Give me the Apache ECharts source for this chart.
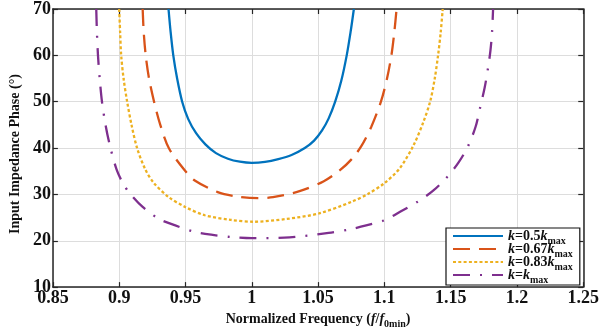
<!DOCTYPE html>
<html>
<head>
<meta charset="utf-8">
<script src="https://cdn.jsdelivr.net/npm/echarts@6/dist/echarts.min.js"></script>
<style>html,body{margin:0;padding:0;background:#fff}#c{width:602px;height:334px}</style>
</head>
<body>
<div id="c"></div>
<script>
// ---- data ----
var xTicks = [0.85, 0.9, 0.95, 1, 1.05, 1.1, 1.15, 1.2, 1.25];
var yTicks = [10, 20, 30, 40, 50, 60, 70];
var seriesNames = ['k=0.5kmax', 'k=0.67kmax', 'k=0.83kmax', 'k=kmax'];

var k050Freq  = [0.9372, 0.9388, 0.9408, 0.9437, 0.9475, 0.9520, 0.9580, 0.9650, 0.9730, 0.9820, 0.9910, 1.0000, 1.0100, 1.0200, 1.0300, 1.0400, 1.0470, 1.0530, 1.0580, 1.0629, 1.0675, 1.0716, 1.0745, 1.0770];
var k050Phase = [70,     65,     60,     55,     50,     46.3,   43.2,   40.8,   38.9,   37.7,   37.05,  36.8,   37.0,   37.6,   38.5,   40.0,   41.6,   43.8,   46.4,   50,     54.5,   60,     65,     70];

var k067Freq  = [0.9177, 0.9185, 0.9200, 0.9225, 0.9263, 0.9310, 0.9374, 0.9497, 0.9570, 0.9743, 0.9900, 1.0050, 1.0160, 1.0360, 1.0540, 1.0660, 1.0750, 1.0826, 1.0900, 1.0974, 1.1020, 1.1053, 1.1075, 1.1092];
var k067Phase = [70,     65,     60,     55,     50,     45,     40,     35.1,   33.0,   30.5,   29.5,   29.2,   29.4,   30.7,   32.8,   35.1,   37.5,   40.4,   44.5,   50,     55,     60,     65,     70];

var k083Freq  = [0.9000, 0.9007, 0.9015, 0.9033, 0.9060, 0.9093, 0.9135, 0.9195, 0.9260, 0.9374, 0.9497, 0.9645, 0.9842, 1.0014, 1.0260, 1.0507, 1.0753, 1.0876, 1.0995, 1.1115, 1.1220, 1.1294, 1.1345, 1.1380, 1.1405, 1.1425, 1.1440];
var k083Phase = [70,     65,     60,     55,     50,     45,     40,     35.5,   32.5,   29.4,   27.3,   25.5,   24.5,   24.1,   24.7,   25.9,   28.4,   30.1,   32.3,   35.6,   40.6,   45.6,   50,     55,     60,     65,     70];

var k100Freq  = [0.8827, 0.8832, 0.8840, 0.8853, 0.8870, 0.8897, 0.8930, 0.8980, 0.9030, 0.9078, 0.9177, 0.9300, 0.9423, 0.9558, 0.9694, 0.9842, 1.0000, 1.0285, 1.0580, 1.0728, 1.0863, 1.0999, 1.1122, 1.1250, 1.1368, 1.1475, 1.1560, 1.1631, 1.1688, 1.1722, 1.1757, 1.1783, 1.1800, 1.1812, 1.1820];
var k100Phase = [70,     65,     60,     55,     50,     45,     40.5,   35.4,   32.3,   30.3,   27.3,   24.7,   23.3,   22.0,   21.3,   20.8,   20.55,  20.75,  21.7,   22.4,   23.3,   24.4,   26.3,   28.4,   30.8,   33.8,   36.9,   40.4,   44.6,   48.7,   53.1,   57.5,   61,     65,     70];

// ---- chart ----
function pairs(xs, ys) { return xs.map(function (x, i) { return [x, ys[i]]; }); }

var FONT = '"Liberation Serif", "Times New Roman", serif';
var AXIS_COLOR = '#262626';
var TXT = '#111';
var colors = ['#0072BD', '#D95319', '#EDB120', '#7E2F8E'];
var dashes = ['solid', [17, 9], [3, 2.3], [17, 10, 2, 10]];
var datasets = [pairs(k050Freq, k050Phase), pairs(k067Freq, k067Phase), pairs(k083Freq, k083Phase), pairs(k100Freq, k100Phase)];

var legendRich = {
  it:  { fontFamily: FONT, fontWeight: 'bold', fontStyle: 'italic', fontSize: 14, color: TXT, verticalAlign: 'bottom' },
  n:   { fontFamily: FONT, fontWeight: 'bold', fontSize: 14, color: TXT, verticalAlign: 'bottom' },
  sub: { fontFamily: FONT, fontWeight: 'bold', fontSize: 10, color: TXT, verticalAlign: 'bottom', padding: [0, 0, -3, 0] }
};
var legendText = {
  'k=0.5kmax':  '{it|k}{n|=0.5}{it|k}{sub|max}',
  'k=0.67kmax': '{it|k}{n|=0.67}{it|k}{sub|max}',
  'k=0.83kmax': '{it|k}{n|=0.83}{it|k}{sub|max}',
  'k=kmax':     '{it|k}{n|=}{it|k}{sub|max}'
};

var fmt = function (v) { return String(+(+v).toFixed(2)); };

var chart = echarts.init(document.getElementById('c'), null, { renderer: 'canvas' });
chart.setOption({
  animation: false,
  backgroundColor: '#fff',
  grid: { left: 45, right: 16, top: 7, bottom: 44, containLabel: false },
  legend: {
    orient: 'vertical',
    left: 446, top: 228,
    backgroundColor: '#fff',
    borderColor: '#111', borderWidth: 1.2,
    padding: [1, 7, 0, 6],
    itemWidth: 50, itemHeight: 10, itemGap: -4,
    itemStyle: { color: 'rgba(0,0,0,0)', borderColor: 'rgba(0,0,0,0)', borderWidth: 0, opacity: 0 },
    formatter: function (name) { return legendText[name]; },
    textStyle: { rich: legendRich, fontFamily: FONT, fontWeight: 'bold', fontSize: 14, color: TXT },
    data: seriesNames
  },
  xAxis: [{
    type: 'value', min: xTicks[0], max: xTicks[xTicks.length - 1], interval: 0.05,
    name: '{n|Normalized Frequency (}{it|f}{n|/}{it|f}{sub|0min}{n|)}',
    nameLocation: 'middle', nameGap: 18,
    nameTextStyle: { rich: {
      n: { fontFamily: FONT, fontWeight: 'bold', fontSize: 14, color: TXT, verticalAlign: 'bottom' },
      it: { fontFamily: FONT, fontWeight: 'bold', fontStyle: 'italic', fontSize: 14, color: TXT, verticalAlign: 'bottom' },
      sub: { fontFamily: FONT, fontWeight: 'bold', fontSize: 10, color: TXT, verticalAlign: 'bottom', padding: [0, 0, -3, 0] }
    } },
    axisLine: { show: true, onZero: false, lineStyle: { color: AXIS_COLOR, width: 1.5 } },
    axisTick: { show: true, inside: true, length: 5, lineStyle: { color: AXIS_COLOR, width: 1.2 } },
    axisLabel: { formatter: fmt, margin: 2, fontFamily: FONT, fontWeight: 'bold', fontSize: 18, color: TXT },
    splitLine: { show: true, lineStyle: { color: '#dddddd', width: 1 } }
  }, {
    type: 'value', position: 'top', min: xTicks[0], max: xTicks[xTicks.length - 1], interval: 0.05,
    axisLine: { show: true, onZero: false, lineStyle: { color: AXIS_COLOR, width: 1.5 } },
    axisTick: { show: true, inside: true, length: 5, lineStyle: { color: AXIS_COLOR, width: 1.2 } },
    axisLabel: { show: false }, splitLine: { show: false }
  }],
  yAxis: [{
    type: 'value', min: yTicks[0], max: yTicks[yTicks.length - 1], interval: 10,
    name: 'Input Impedance Phase (°)',
    nameLocation: 'middle', nameGap: 27,
    nameTextStyle: { fontFamily: FONT, fontWeight: 'bold', fontSize: 14, color: TXT, padding: [0, 12, 0, 0] },
    axisLine: { show: true, onZero: false, lineStyle: { color: AXIS_COLOR, width: 1.5 } },
    axisTick: { show: true, inside: true, length: 5, lineStyle: { color: AXIS_COLOR, width: 1.2 } },
    axisLabel: { margin: 2, fontFamily: FONT, fontWeight: 'bold', fontSize: 18, color: TXT },
    splitLine: { show: true, lineStyle: { color: '#dddddd', width: 1 } }
  }, {
    type: 'value', position: 'right', min: yTicks[0], max: yTicks[yTicks.length - 1], interval: 10,
    axisLine: { show: true, onZero: false, lineStyle: { color: AXIS_COLOR, width: 1.5 } },
    axisTick: { show: true, inside: true, length: 5, lineStyle: { color: AXIS_COLOR, width: 1.2 } },
    axisLabel: { show: false }, splitLine: { show: false }
  }],
  series: seriesNames.map(function (name, i) {
    return {
      name: name, type: 'line', data: datasets[i],
      xAxisIndex: 0, yAxisIndex: 0,
      showSymbol: false, symbol: 'none',
      smooth: 0.3,
      clip: true,
      color: colors[i],
      lineStyle: { color: colors[i], width: 2.3, type: dashes[i] },
      itemStyle: { color: colors[i] },
      z: 3 + i
    };
  })
});
</script>
</body>
</html>
